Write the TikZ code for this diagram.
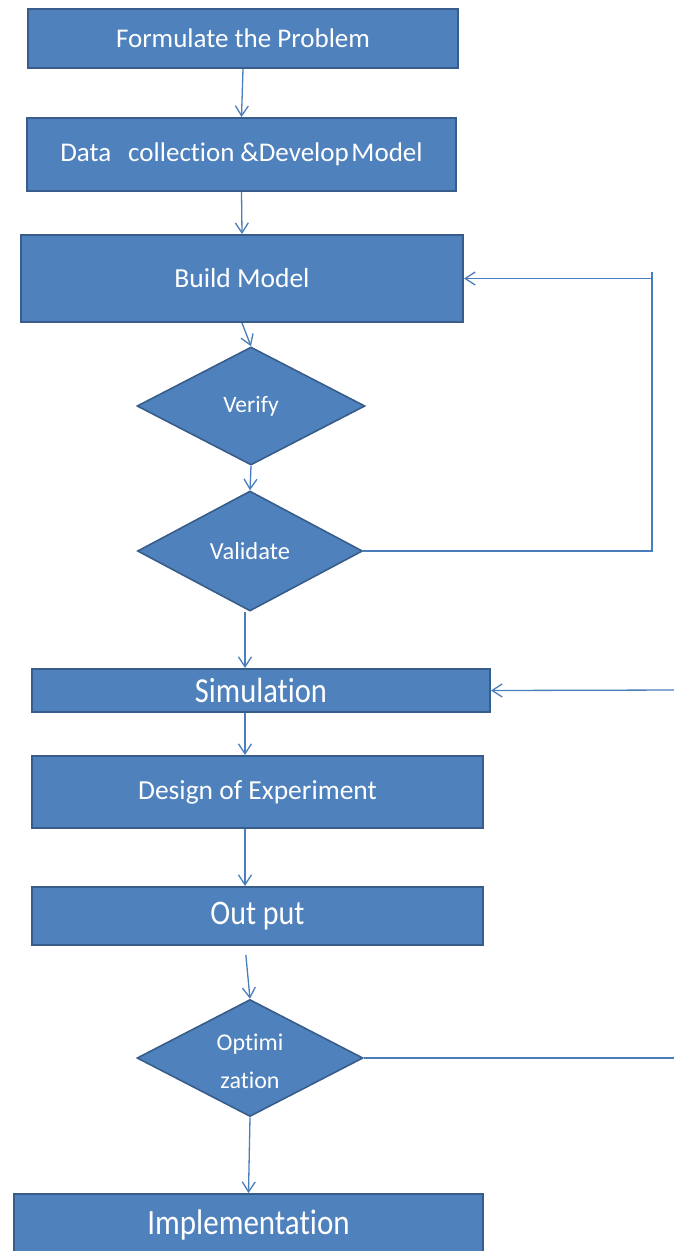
\documentclass[tikz,border=0pt]{standalone}
\usepackage{fontspec}
\setmainfont{Carlito}[Ligatures=NoCommon]
\usepackage{graphicx}
\usetikzlibrary{shapes.geometric,arrows.meta,calc}
\definecolor{boxfill}{HTML}{4F81BD}
\definecolor{boxedge}{HTML}{385D8A}
\definecolor{linkcol}{HTML}{4A7EBB}
\newcommand\vstretch[1]{\scalebox{1}[1.15]{#1}}
\newcommand\fsz[1]{\fontsize{#1}{#1}\selectfont}

\begin{document}
\begin{tikzpicture}[x=1pt,y=-1pt,
  box/.style={rectangle, draw=boxedge, fill=boxfill, line width=2pt,
              text=white, inner sep=0pt},
  dia/.style={diamond, draw=boxedge, fill=boxfill, line width=1.6pt,
              inner sep=0pt},
  dtext/.style={text=white, align=center, inner sep=0pt},
  link/.style={draw=linkcol, line width=1.3pt},
  arr/.style={link, -{Straight Barb[length=10pt,width=13pt,line width=1.3pt]}},
]
\useasboundingbox (0,0) rectangle (674,1251);
\clip (0,0) rectangle (674,1251);

% main column of process steps
\node[box, minimum width=430, minimum height=59, font=\fsz{27}]
  (formulate) at (243,38.5) {Formulate the Problem};
\node[box, minimum width=429, minimum height=73, font=\fsz{27}]
  (data) at (241.5,154.5) {Data\hspace{0.63em}collection\hspace{0.22em}\&Develop\hspace{0.1em}Model};
\node[box, minimum width=442, minimum height=87, font=\fsz{27.5}]
  (build) at (242,278.5) {Build Model};

\node[dia, minimum width=228, minimum height=118,
  label={[dtext, font=\fsz{23.5}]center:Verify}] (verify) at (251,406) {};
\node[dia, minimum width=225, minimum height=120,
  label={[dtext, font=\fsz{24.5}]center:Validate}] (validate) at (250,551) {};

\node[box, minimum width=458, minimum height=43, font=\fsz{30.5}]
  (sim) at (261,690.5) {\vstretch{Simulation}};
\node[box, minimum width=451, minimum height=72, font=\fsz{27.5}]
  (doe) at (257.5,792) {Design of Experiment};
\node[box, minimum width=451, minimum height=58, font=\fsz{30}]
  (out) at (257.5,916) {\vstretch{Out put}};

\node[dia, minimum width=226, minimum height=117,
  label={[dtext, font=\fontsize{24}{38}\selectfont, yshift=-3pt]center:Optimi\\zation}]
  (opt) at (250,1058) {};

\node[box, minimum width=469, minimum height=62, font=\fsz{31}]
  (impl) at (248.5,1225) {\vstretch{Implementation}};

% helper positions for the straight runs and the loops
\coordinate (ax) at (245,0);
\coordinate (fb) at (652,0);
\coordinate (simin) at (680,690);
\coordinate (optout) at (680,1058);

% forward flow
\draw[arr] (formulate.south) -- (data.north);
\draw[arr] (data.south) -- (build.north);
\draw[arr] (build.south) -- (verify.north);
\draw[arr] (verify.south) -- (validate.north);
\draw[arr] ([xshift=-5pt]validate.south) -- ([xshift=-5pt]validate.south |- sim.north);
\draw[arr] (sim.south -| ax) -- (doe.north -| ax);
\draw[arr] (doe.south -| ax) -- (out.north -| ax);
\draw[arr, shorten <=9pt] (out.south -| ax) -- (opt.north);
\draw[arr] (opt.south) -- (impl.north);

% feedback from validation back to the model
\draw[link] (validate.east) -- (validate.east -| fb) -- ([yshift=7pt]fb |- build.east);
\draw[arr] (fb |- build.east) -- (build.east);

% loop from optimization back to simulation
\draw[arr] (simin) -- (sim.east);
\draw[link] (opt.east) -- (optout);
\end{tikzpicture}
\end{document}
